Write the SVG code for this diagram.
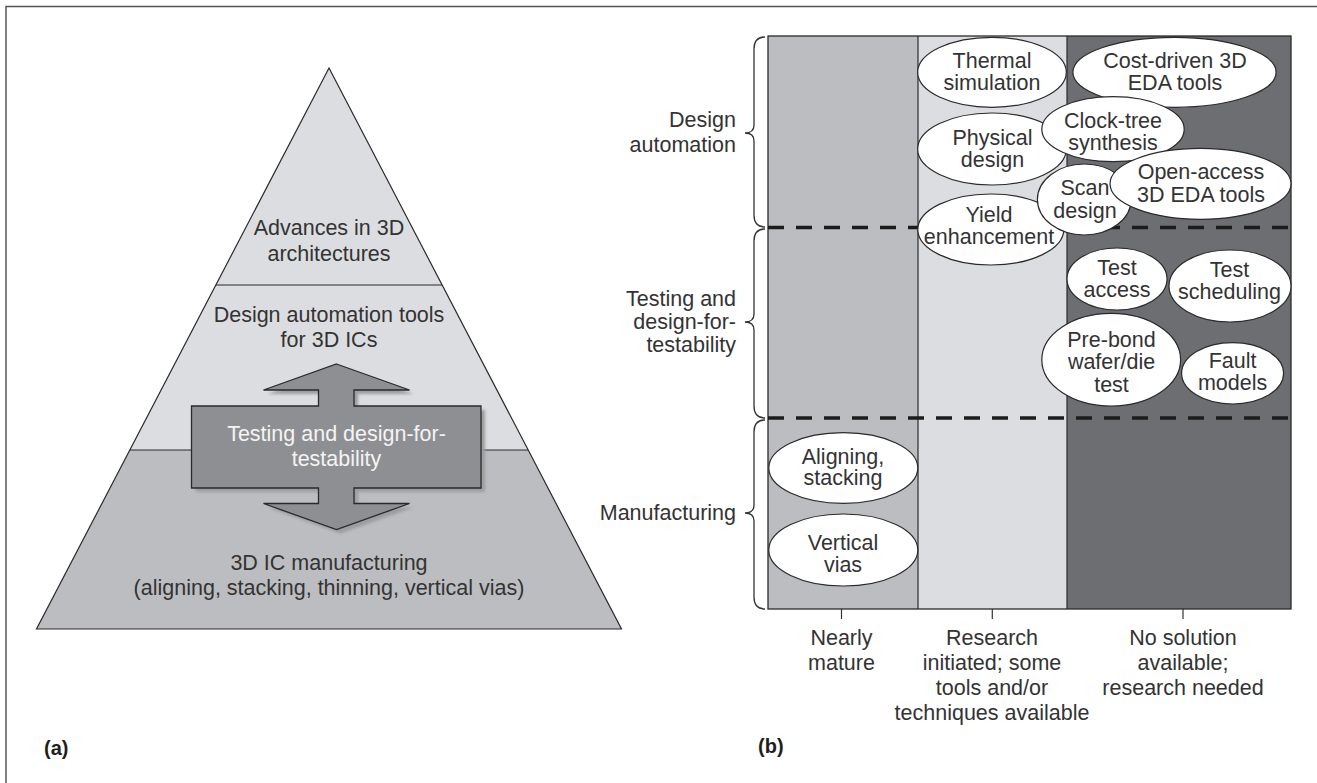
<svg xmlns="http://www.w3.org/2000/svg" width="1317" height="783" viewBox="0 0 1317 783">
<defs>
<style>
text{font-family:"Liberation Sans",Arial,sans-serif;font-size:21.5px;fill:#333333;text-anchor:middle}
.r{text-anchor:end}
.lbl{font-weight:bold;font-size:20px;text-anchor:start;fill:#1e1e1e}
.wt{fill:#f4f4f4}
.ell{fill:#ffffff;stroke:#2a2a2a;stroke-width:1.2}
.edge{stroke:#2a2a2a;stroke-width:1.2;fill:none}
.brace{stroke:#333;stroke-width:1.3;fill:none}
.dash{stroke:#1c1c1c;stroke-width:3.5;stroke-dasharray:16 12;fill:none}
</style>
<filter id="sh" x="-10%" y="-10%" width="130%" height="130%">
<feGaussianBlur stdDeviation="1.5"/>
</filter>
</defs>
<rect x="0" y="0" width="1317" height="783" fill="#ffffff"/>
<g id="frame">
<path d="M6,783 L6,6.5 L1317,6.5" fill="none" stroke="#555" stroke-width="1.5"/>
</g>
<g id="pyramid">
<g id="layer-architectures">
<polygon points="329,68 442,285 216,285" fill="#dcdde0"/>
</g>
<g id="layer-design-automation">
<polygon points="216,285 442,285 528,450 130,450" fill="#dcdde0"/>
</g>
<g id="layer-manufacturing">
<polygon points="130,450 528,450 621.5,629 36.5,629" fill="#bcbdc0"/>
</g>
<polygon class="edge" points="329,68 621.5,629 36.5,629"/>
<line class="edge" x1="216" y1="285" x2="442" y2="285"/>
<line class="edge" x1="130" y1="450" x2="528" y2="450"/>
<text x="329" y="235">Advances in 3D</text>
<text x="329" y="261">architectures</text>
<text x="329" y="322">Design automation tools</text>
<text x="329" y="347">for 3D ICs</text>
<text x="329" y="570">3D IC manufacturing</text>
<text x="329" y="595">(aligning, stacking, thinning, vertical vias)</text>
</g>
<g id="testing-arrow">
<polygon transform="translate(4,4)" filter="url(#sh)" fill="#9c9da0" points="336.5,364 409.5,390 354,390 354,406 481,406 481,488 354,488 354,503.5 409.5,503.5 336.5,529.5 263.5,503.5 318.5,503.5 318.5,488 191.5,488 191.5,406 318.5,406 318.5,390 263.5,390"/>
<polygon fill="#8e8f92" stroke="#2a2a2a" stroke-width="1.3" points="336.5,364 409.5,390 354,390 354,406 481,406 481,488 354,488 354,503.5 409.5,503.5 336.5,529.5 263.5,503.5 318.5,503.5 318.5,488 191.5,488 191.5,406 318.5,406 318.5,390 263.5,390"/>
<text class="wt" x="336.5" y="441">Testing and design-for-</text>
<text class="wt" x="336.5" y="466">testability</text>
</g>
<text class="lbl" x="44" y="755">(a)</text>
<g id="chart">
<rect x="768" y="36" width="150" height="573" fill="#bcbdc0"/>
<rect x="918" y="36" width="149" height="573" fill="#dcdde0"/>
<rect x="1067" y="36" width="224" height="573" fill="#6d6e71"/>
<rect x="768" y="36" width="523" height="573" fill="none" stroke="#2a2a2a" stroke-width="1.3"/>
<line x1="918" y1="36" x2="918" y2="609" stroke="#2a2a2a" stroke-width="1.2"/>
<line x1="1067" y1="36" x2="1067" y2="609" stroke="#2a2a2a" stroke-width="1.2"/>
<line class="dash" x1="768" y1="227.5" x2="1291" y2="227.5"/>
<line class="dash" x1="768" y1="418" x2="1291" y2="418"/>
</g>
<g id="connectors">
<path class="brace" d="M765,37 Q754,37 754,49 L754,125 Q754,133 745,133 Q754,133 754,141 L754,215 Q754,227 765,227"/>
<path class="brace" d="M765,229 Q754,229 754,241 L754,314 Q754,322 745,322 Q754,322 754,330 L754,406 Q754,418 765,418"/>
<path class="brace" d="M765,420 Q754,420 754,432 L754,505 Q754,513 745,513 Q754,513 754,521 L754,597 Q754,609 765,609"/>
<line x1="841.5" y1="609" x2="841.5" y2="619" stroke="#333" stroke-width="1.2"/>
<line x1="992.3" y1="609" x2="992.3" y2="619" stroke="#333" stroke-width="1.2"/>
<line x1="1183" y1="609" x2="1183" y2="619" stroke="#333" stroke-width="1.2"/>
</g>
<g id="row-labels">
<text class="r" x="736" y="127">Design</text>
<text class="r" x="736" y="152">automation</text>
<text class="r" x="736" y="306">Testing and</text>
<text class="r" x="736" y="329">design-for-</text>
<text class="r" x="736" y="352">testability</text>
<text class="r" x="736" y="520">Manufacturing</text>
</g>
<g id="column-labels">
<text x="841.5" y="645">Nearly</text>
<text x="841.5" y="670">mature</text>
<text x="992" y="645">Research</text>
<text x="992" y="670">initiated; some</text>
<text x="992" y="695">tools and/or</text>
<text x="992" y="720">techniques available</text>
<text x="1183" y="645">No solution</text>
<text x="1183" y="670">available;</text>
<text x="1183" y="695">research needed</text>
</g>
<g id="thermal-simulation">
<ellipse class="ell" cx="992" cy="72.3" rx="74.3" ry="35"/>
<text x="992" y="68">Thermal</text>
<text x="992" y="90">simulation</text>
</g>
<g id="cost-driven-eda">
<ellipse class="ell" cx="1174.5" cy="72.3" rx="101.6" ry="35"/>
<text x="1175" y="68">Cost-driven 3D</text>
<text x="1175" y="90">EDA tools</text>
</g>
<g id="physical-design">
<ellipse class="ell" cx="992" cy="149" rx="74.3" ry="36"/>
<text x="992.5" y="145">Physical</text>
<text x="992.5" y="167">design</text>
</g>
<g id="clock-tree-synthesis">
<ellipse class="ell" cx="1113" cy="129.2" rx="71.2" ry="32.5"/>
<text x="1113" y="128">Clock-tree</text>
<text x="1113" y="150">synthesis</text>
</g>
<g id="yield-enhancement">
<ellipse class="ell" cx="990.8" cy="229.5" rx="73" ry="35.5"/>
<text x="989" y="222">Yield</text>
<text x="989" y="244">enhancement</text>
</g>
<g id="scan-design">
<ellipse class="ell" cx="1084.3" cy="199.5" rx="46.9" ry="35.5"/>
<text x="1085" y="195">Scan</text>
<text x="1085" y="217.5">design</text>
</g>
<g id="open-access-eda">
<ellipse class="ell" cx="1200.5" cy="183.8" rx="90.5" ry="35.5"/>
<text x="1201" y="179">Open-access</text>
<text x="1201" y="201.5">3D EDA tools</text>
</g>
<g id="test-access">
<ellipse class="ell" cx="1117" cy="279" rx="50" ry="31"/>
<text x="1117" y="275">Test</text>
<text x="1117" y="297">access</text>
</g>
<g id="test-scheduling">
<ellipse class="ell" cx="1230" cy="286" rx="61" ry="36"/>
<text x="1229.5" y="277">Test</text>
<text x="1229.5" y="298.5">scheduling</text>
</g>
<g id="pre-bond-test">
<ellipse class="ell" cx="1111.2" cy="359.7" rx="69.4" ry="46.3"/>
<text x="1111.5" y="347">Pre-bond</text>
<text x="1111.5" y="369">wafer/die</text>
<text x="1111.5" y="391.5">test</text>
</g>
<g id="fault-models">
<ellipse class="ell" cx="1232.6" cy="373.3" rx="51" ry="30.7"/>
<text x="1232.6" y="368">Fault</text>
<text x="1232.6" y="389.5">models</text>
</g>
<g id="aligning-stacking">
<ellipse class="ell" cx="843.3" cy="468" rx="74.5" ry="35.3"/>
<text x="843" y="463.5">Aligning,</text>
<text x="843" y="485">stacking</text>
</g>
<g id="vertical-vias">
<ellipse class="ell" cx="843.3" cy="550" rx="74.5" ry="36"/>
<text x="843" y="549.5">Vertical</text>
<text x="843" y="572">vias</text>
</g>
<text class="lbl" x="758" y="753">(b)</text>
</svg>
